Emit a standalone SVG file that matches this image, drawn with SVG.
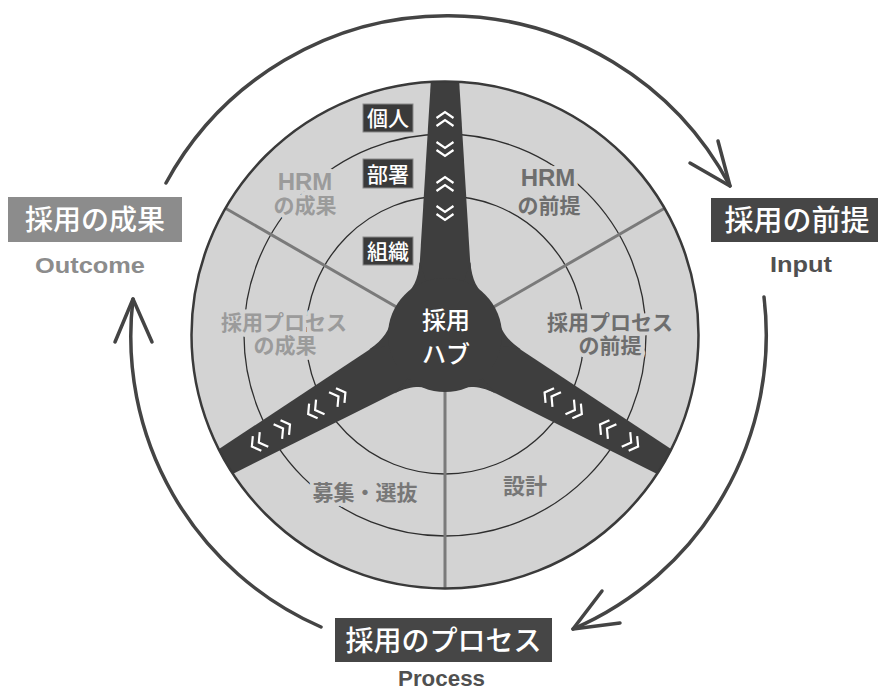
<svg xmlns="http://www.w3.org/2000/svg" width="878" height="691" viewBox="0 0 878 691">
<style>
.jp{font-family:"Noto Sans CJK JP","Liberation Sans",sans-serif}
.en{font-family:"Liberation Sans","Noto Sans CJK JP",sans-serif;font-weight:700}
.lbl{font-family:"Liberation Sans","Noto Sans CJK JP",sans-serif;font-weight:700;text-anchor:middle;stroke:#d3d3d3;stroke-width:8;stroke-linejoin:round;paint-order:stroke}
.box{font-family:"Noto Sans CJK JP",sans-serif;font-weight:500;fill:#fff;text-anchor:middle}
.arc{fill:none;stroke:#444;stroke-width:3.5;stroke-linecap:round;stroke-linejoin:round}
.ring{fill:none;stroke:#2e2e2e;stroke-width:1.3}
.div{stroke:#7a7a7a;stroke-width:3}
.chev{fill:none;stroke:#fff;stroke-width:2.2;stroke-linejoin:miter}
</style>
<defs>
<clipPath id="disc"><circle cx="445" cy="335" r="253.5"/></clipPath>
<path id="dbl" class="chev" d="M-8.5,-1 L0,-7 L8.5,-1 M-8.5,7 L0,1 L8.5,7"/>
<g id="arm">
<path d="M417.5,300 L431.5,70 L458.5,70 L472.5,300 Z" fill="#3e3e3e"/>
<path d="M419.5,262 C418.5,280 412,290 404,297 L445,335 Z" fill="#3e3e3e"/>
<path d="M470.5,262 C471.5,280 478,290 486,297 L445,335 Z" fill="#3e3e3e"/>
<use href="#dbl" transform="translate(445,213) rotate(180)"/>
<use href="#dbl" transform="translate(445,184)"/>
<use href="#dbl" transform="translate(445,149) rotate(180)"/>
<use href="#dbl" transform="translate(445,119)"/>
</g>
<line id="dl" class="div" x1="445" y1="335" x2="445" y2="78"/>
</defs>

<g id="wheel">
<circle cx="445" cy="335" r="253.5" fill="#d3d3d3"/>
<circle class="ring" cx="445" cy="335" r="139"/>
<circle class="ring" cx="445" cy="335" r="201"/>
<g clip-path="url(#disc)">
<use href="#dl" transform="rotate(60,445,335)"/>
<use href="#dl" transform="rotate(300,445,335)"/>
<use href="#dl" transform="rotate(180,445,335)" style="stroke:#555;stroke-width:2.6"/>
<use href="#arm"/>
<use href="#arm" transform="rotate(120,445,335)"/>
<use href="#arm" transform="rotate(240,445,335)"/>
</g>
<circle cx="445" cy="335" r="253.5" fill="none" stroke="#3a3a3a" stroke-width="2.5"/>
</g>

<g id="hub">
<circle cx="445" cy="335" r="57" fill="#3e3e3e"/>
<text class="box" x="446" y="329" font-size="24">採用</text>
<text class="box" x="446" y="363" font-size="24">ハブ</text>
</g>

<g id="levels">
<rect x="363" y="104" width="50" height="28" fill="#3a3a3a" stroke="#8a8a8a" stroke-width="1"/>
<text class="box" x="388" y="126" font-size="21">個人</text>
<rect x="363" y="159" width="50" height="29" fill="#3a3a3a" stroke="#8a8a8a" stroke-width="1"/>
<text class="box" x="388" y="181.5" font-size="21">部署</text>
<rect x="363" y="237" width="50" height="28" fill="#3a3a3a" stroke="#8a8a8a" stroke-width="1"/>
<text class="box" x="388" y="259" font-size="21">組織</text>
</g>

<g id="hrm-outcome" fill="#9b9b9b">
<text class="lbl" x="305" y="190" font-size="24">HRM</text>
<text class="lbl" x="305" y="213" font-size="21">の成果</text>
</g>
<g id="process-outcome" fill="#9b9b9b">
<text class="lbl" x="284" y="330" font-size="21">採用プロセス</text>
<text class="lbl" x="285" y="353" font-size="21">の成果</text>
</g>
<g id="hrm-input" fill="#6e6e6e">
<text class="lbl" x="548" y="186" font-size="24">HRM</text>
<text class="lbl" x="549" y="213" font-size="21">の前提</text>
</g>
<g id="process-input" fill="#6e6e6e">
<text class="lbl" x="610" y="330" font-size="21">採用プロセス</text>
<text class="lbl" x="610" y="353" font-size="21">の前提</text>
</g>
<g id="recruit" fill="#777">
<text class="lbl" x="365" y="500" font-size="21">募集・選抜</text>
</g>
<g id="design" fill="#777">
<text class="lbl" x="525" y="494" font-size="22">設計</text>
</g>

<g id="outcome">
<rect x="8" y="197" width="174" height="45" fill="#8c8c8c"/>
<text class="box" x="95" y="230" font-size="28">採用の成果</text>
<text class="en" x="90" y="273" font-size="22" fill="#8c8c8c" text-anchor="middle" textLength="110" lengthAdjust="spacingAndGlyphs">Outcome</text>
</g>
<g id="input">
<rect x="711" y="198" width="167" height="44" fill="#464646"/>
<text class="box" x="797" y="231" font-size="29">採用の前提</text>
<text class="en" x="801" y="272" font-size="22" fill="#505050" text-anchor="middle" textLength="62" lengthAdjust="spacingAndGlyphs">Input</text>
</g>
<g id="process">
<rect x="335" y="618" width="217" height="44" fill="#464646"/>
<text class="box" x="443.5" y="650.5" font-size="28">採用のプロセス</text>
<text class="en" x="441.5" y="686" font-size="22" fill="#505050" text-anchor="middle" textLength="87" lengthAdjust="spacingAndGlyphs">Process</text>
</g>

<g id="connectors">
<path class="arc" d="M166,183 A320,320 0 0 1 730,186"/>
<path class="arc" d="M690,163 L730,186 L718,141"/>
<path class="arc" d="M764,297 A320,320 0 0 1 573,629"/>
<path class="arc" d="M602,591 L573,629 L620,623"/>
<path class="arc" d="M321,627 A317,317 0 0 1 133,299"/>
<path class="arc" d="M115,342 L133,299 L152,342"/>
</g>
</svg>
